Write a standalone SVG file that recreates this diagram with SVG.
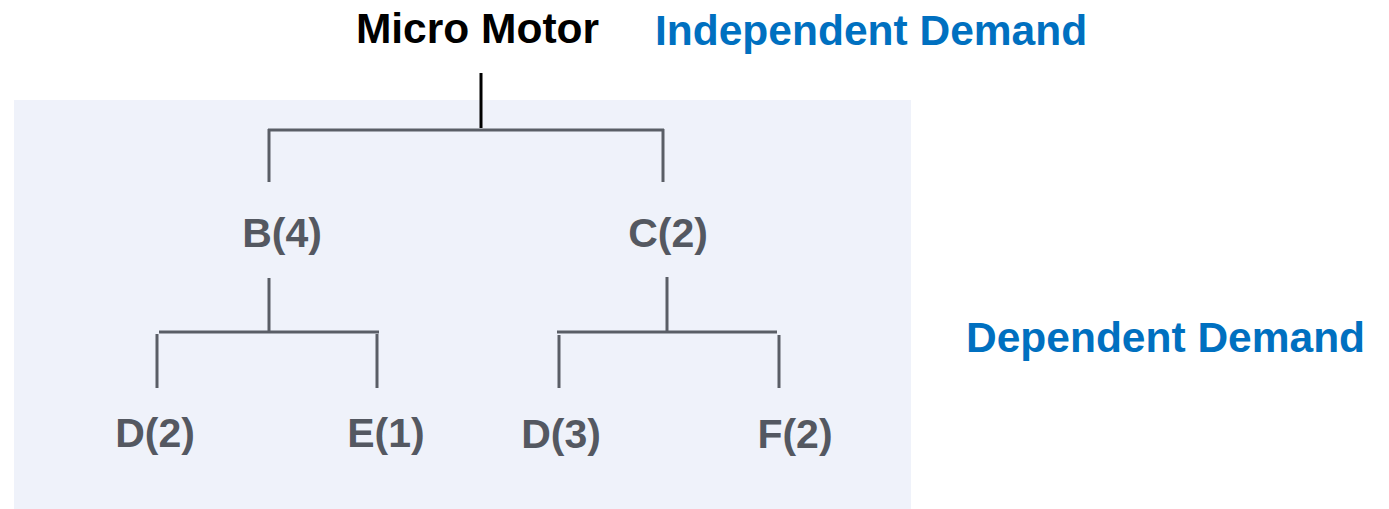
<svg xmlns="http://www.w3.org/2000/svg" width="1389" height="509" viewBox="0 0 1389 509">
<style>
.bg{fill:#eff2fa}
.ln{stroke:#5a5e66;stroke-width:3;fill:none}
.node{font-family:"Liberation Sans",Arial,sans-serif;font-weight:bold;font-size:41px;fill:#545861;text-anchor:middle}
.title{font-family:"Liberation Sans",Arial,sans-serif;font-weight:bold;font-size:42.5px}
.blue{fill:#0070c0}
</style>
<rect width="1389" height="509" fill="#ffffff"/>
<rect class="bg" x="14" y="100" width="897" height="409"/>
<g id="connectors">
<line x1="481" y1="73" x2="481" y2="128" stroke="#000" stroke-width="3"/>
<line class="ln" x1="268" y1="130" x2="664" y2="130"/>
<line class="ln" x1="269" y1="129" x2="269" y2="182"/>
<line class="ln" x1="663" y1="129" x2="663" y2="182"/>
<line class="ln" x1="269" y1="278" x2="269" y2="332"/>
<line class="ln" x1="159" y1="332" x2="379" y2="332"/>
<line class="ln" x1="157" y1="334" x2="157" y2="388"/>
<line class="ln" x1="377" y1="334" x2="377" y2="388"/>
<line class="ln" x1="667" y1="277" x2="667" y2="332"/>
<line class="ln" x1="557" y1="332" x2="777" y2="332"/>
<line class="ln" x1="559" y1="335" x2="559" y2="388"/>
<line class="ln" x1="779" y1="335" x2="779" y2="388"/>
</g>
<g id="root"><text class="title" x="477.5" y="43" text-anchor="middle" fill="#000">Micro Motor</text></g>
<g id="label-independent"><text class="title blue" x="655" y="45">Independent Demand</text></g>
<g id="label-dependent"><text class="title blue" x="966" y="352">Dependent Demand</text></g>
<g id="B"><text class="node" x="282" y="247">B(4)</text></g>
<g id="C"><text class="node" x="668" y="247">C(2)</text></g>
<g id="D2"><text class="node" x="155" y="447">D(2)</text></g>
<g id="E1"><text class="node" x="386" y="447">E(1)</text></g>
<g id="D3"><text class="node" x="561" y="448">D(3)</text></g>
<g id="F2"><text class="node" x="795" y="448">F(2)</text></g>
</svg>
